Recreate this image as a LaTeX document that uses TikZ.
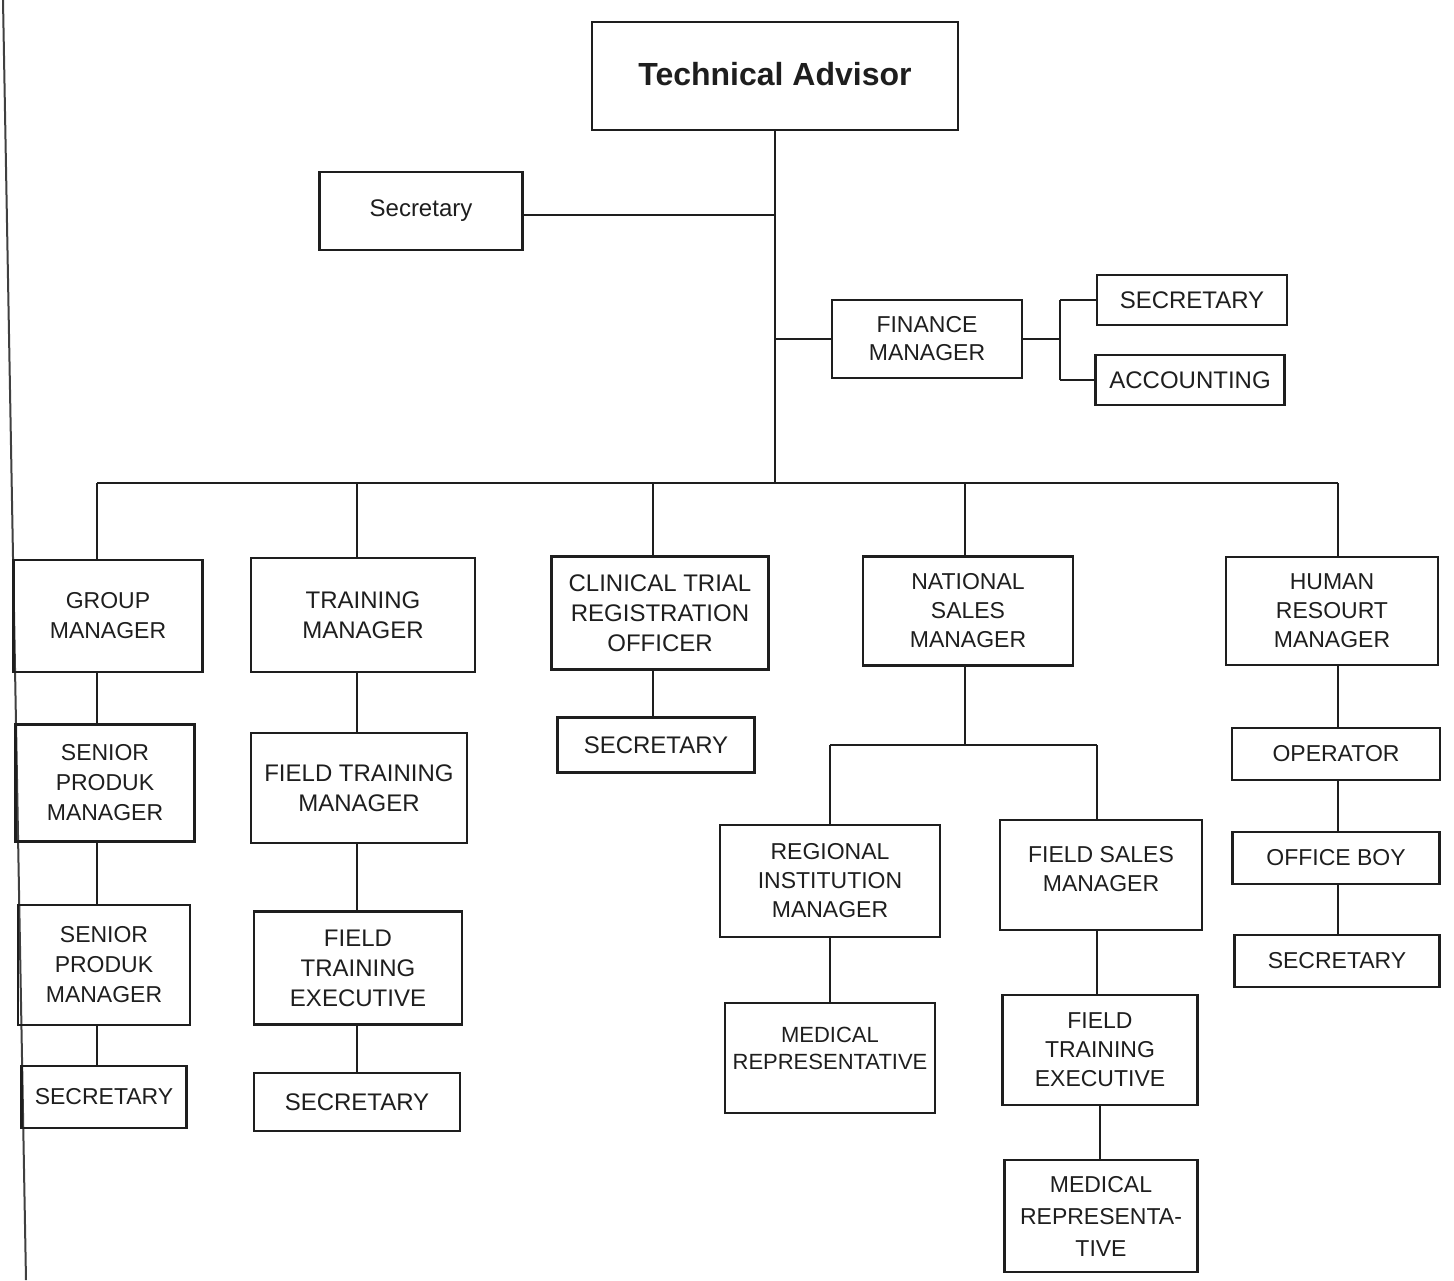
\documentclass[tikz,border=0pt]{standalone}
\usepackage{fontspec}
\setmainfont{Liberation Sans}
\definecolor{ink}{RGB}{30,30,30}
\begin{document}
\begin{tikzpicture}[x=1pt,y=-1pt,
  box/.style={draw=ink, line width=2.5pt, inner sep=0pt, align=center, text=ink,
    font=\fontsize{24}{30}\selectfont},
  txt/.style={inner sep=0pt, align=center, text=ink, font=\fontsize{24}{30}\selectfont},
  wire/.style={draw=ink, line width=2.5pt},
  scanedge/.style={draw=ink!85, line width=2pt}]
\useasboundingbox (0,0) rectangle (1454,1280);
% scan edge on the left
\coordinate (edgeT) at (3,0);
\coordinate (edgeB) at (26,1280);
\draw[scanedge] (edgeT) -- (edgeB);

% column coordinates
\coordinate (c1) at (97,0);
\coordinate (c2) at (357,0);
\coordinate (c3) at (653,0);
\coordinate (c4) at (965,0);
\coordinate (c5) at (1338,0);
\coordinate (busL) at (97,483);
\coordinate (busR) at (1338,483);
\coordinate (ff) at (1060,339);
\coordinate (nsL) at (830,745);
\coordinate (nsR) at (1097,745);
\coordinate (s0) at (523,215);

% top
\node[box, minimum width=366pt, minimum height=108pt,
  font=\bfseries\fontsize{32}{36}\selectfont] (ta) at (775,76) {\raisebox{4pt}{Technical Advisor}};
\node[box, minimum width=203pt, minimum height=78pt] (sec0) at (421,211) {\raisebox{5pt}{Secretary}};
\node[box, minimum width=190pt, minimum height=78pt, font=\fontsize{23}{28}\selectfont] (fm) at (927,339) {FINANCE\\MANAGER};
\node[box, minimum width=190pt, minimum height=50pt] (fsec) at (1192,300) {SECRETARY};
\node[box, minimum width=189pt, minimum height=50pt] (facc) at (1190,380) {ACCOUNTING};

% second row
\node[box, minimum width=189pt, minimum height=112pt, font=\fontsize{23}{30}\selectfont] (gm) at (108,616) {GROUP\\MANAGER};
\node[box, minimum width=224pt, minimum height=114pt] (tm) at (363,615) {TRAINING\\MANAGER};
\node[box, minimum width=217pt, minimum height=113pt] (ct) at (660,613) {CLINICAL TRIAL\\REGISTRATION\\OFFICER};
\node[box, minimum width=210pt, minimum height=109pt, font=\fontsize{23}{29}\selectfont] (ns) at (968,611) {NATIONAL\\SALES\\MANAGER};
\node[box, minimum width=212pt, minimum height=108pt, font=\fontsize{23}{29}\selectfont] (hr) at (1332,611) {HUMAN\\RESOURT\\MANAGER};

% column 1
\node[box, minimum width=179pt, minimum height=117pt, font=\fontsize{23}{30}\selectfont] (sp1) at (105,783) {SENIOR\\PRODUK\\MANAGER};
\node[box, minimum width=172pt, minimum height=120pt, font=\fontsize{23}{30}\selectfont] (sp2) at (104,965) {SENIOR\\PRODUK\\MANAGER};
\node[box, minimum width=165pt, minimum height=62pt, font=\fontsize{23}{30}\selectfont] (sec1) at (104,1097) {SECRETARY};

% column 2
\node[box, minimum width=216pt, minimum height=110pt] (ftm) at (359,788) {FIELD TRAINING\\MANAGER};
\node[box, minimum width=208pt, minimum height=113pt] (fte1) at (358,968) {FIELD\\TRAINING\\EXECUTIVE};
\node[box, minimum width=206pt, minimum height=58pt] (sec2) at (357,1102) {SECRETARY};

% column 3
\node[box, minimum width=197pt, minimum height=55pt] (sec3) at (656,745) {SECRETARY};

% column 4
\node[box, minimum width=220pt, minimum height=112pt, font=\fontsize{23}{29}\selectfont] (rim) at (830,881) {REGIONAL\\INSTITUTION\\MANAGER};
\node[box, minimum width=210pt, minimum height=110pt] (mr1) at (830,1058) {};
\node[txt, font=\fontsize{22}{27}\selectfont] (mr1t) at (830,1048) {MEDICAL\\REPRESENTATIVE};
\node[box, minimum width=202pt, minimum height=110pt] (fsm) at (1101,875) {};
\node[txt, font=\fontsize{23}{29}\selectfont] (fsmt) at (1101,869) {FIELD SALES\\MANAGER};
\node[box, minimum width=195pt, minimum height=110pt, font=\fontsize{23}{29}\selectfont] (fte2) at (1100,1050) {FIELD\\TRAINING\\EXECUTIVE};
\node[box, minimum width=193pt, minimum height=112pt, font=\fontsize{23}{32}\selectfont] (mr2) at (1101,1216) {MEDICAL\\REPRESENTA-\\TIVE};

% column 5
\node[box, minimum width=208pt, minimum height=52pt, font=\fontsize{23}{29}\selectfont] (op) at (1336,754) {OPERATOR};
\node[box, minimum width=207pt, minimum height=52pt, font=\fontsize{23}{29}\selectfont] (ob) at (1336,858) {OFFICE BOY};
\node[box, minimum width=205pt, minimum height=52pt, font=\fontsize{23}{29}\selectfont] (sec4) at (1337,961) {SECRETARY};

% connectors: top part
\draw[wire] (ta.south) -- (ta.south |- busL);
\draw[wire] (s0) -- (s0 -| ta.south);
\draw[wire] (fm.west) -- (fm.west -| ta.south);
\draw[wire] (fm.east) -- (ff);
\draw[wire] (ff |- fsec.west) -- (ff |- facc.west);
\draw[wire] (ff |- fsec.west) -- (fsec.west);
\draw[wire] (ff |- facc.west) -- (facc.west);

% bus
\draw[wire] (busL) -- (busR);
\draw[wire] (busL) -- (c1 |- gm.north);
\draw[wire] (c2 |- busL) -- (c2 |- tm.north);
\draw[wire] (c3 |- busL) -- (c3 |- ct.north);
\draw[wire] (c4 |- busL) -- (c4 |- ns.north);
\draw[wire] (busR) -- (c5 |- hr.north);

% column 1
\draw[wire] (c1 |- gm.south) -- (c1 |- sp1.north);
\draw[wire] (c1 |- sp1.south) -- (c1 |- sp2.north);
\draw[wire] (c1 |- sp2.south) -- (c1 |- sec1.north);

% column 2
\draw[wire] (c2 |- tm.south) -- (c2 |- ftm.north);
\draw[wire] (c2 |- ftm.south) -- (c2 |- fte1.north);
\draw[wire] (c2 |- fte1.south) -- (c2 |- sec2.north);

% column 3
\draw[wire] (c3 |- ct.south) -- (c3 |- sec3.north);

% column 4
\draw[wire] (c4 |- ns.south) -- (c4 |- nsL);
\draw[wire] (nsL) -- (nsR);
\draw[wire] (nsL) -- (rim.north);
\draw[wire] (nsR) -- (nsR |- fsm.north);
\draw[wire] (rim.south) -- (mr1.north);
\draw[wire] (nsR |- fsm.south) -- (nsR |- fte2.north);
\draw[wire] (fte2.south) -- (fte2.south |- mr2.north);

% column 5
\draw[wire] (c5 |- hr.south) -- (c5 |- op.north);
\draw[wire] (c5 |- op.south) -- (c5 |- ob.north);
\draw[wire] (c5 |- ob.south) -- (c5 |- sec4.north);
\end{tikzpicture}
\end{document}
